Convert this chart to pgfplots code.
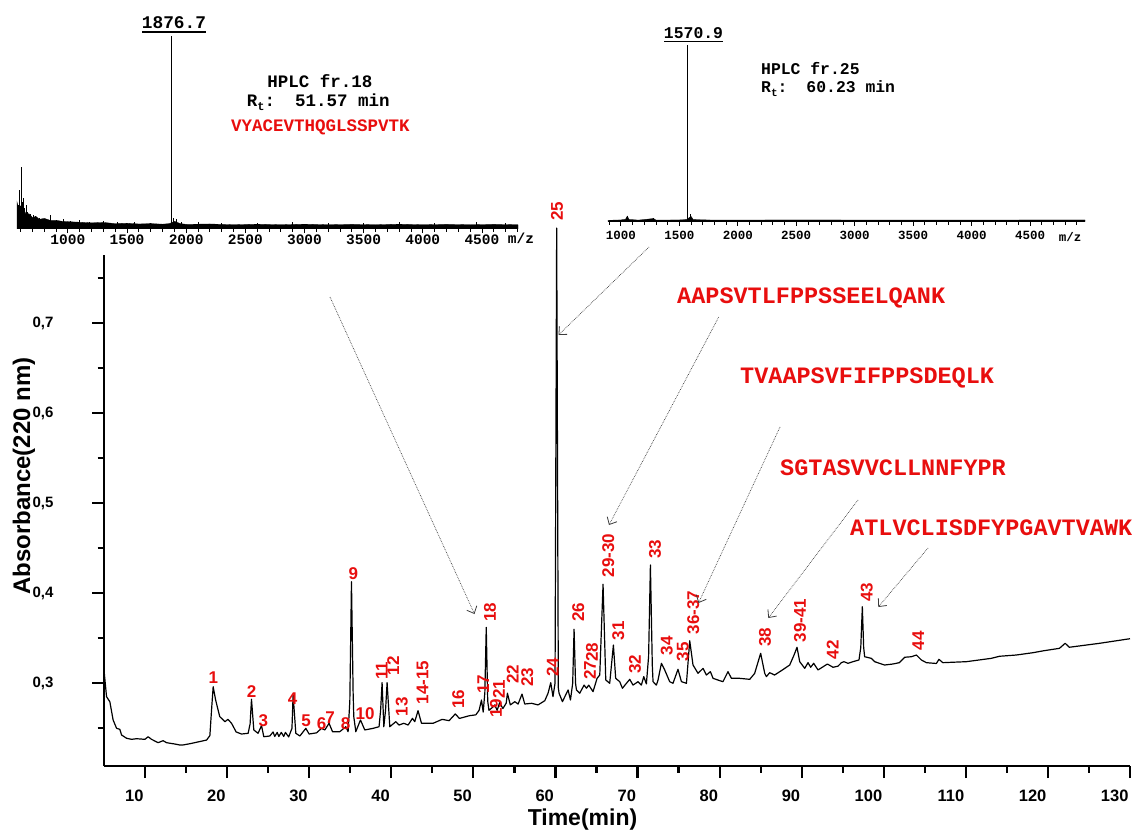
\documentclass[border=0pt]{standalone}
\usepackage{pgfplots}
\pgfplotsset{compat=1.18}
\usepackage{pgfplotstable}
\usepackage{fontspec}
\setmainfont{Liberation Sans}
\newfontfamily\mono{Liberation Mono}
\usetikzlibrary{arrows.meta}
\definecolor{pkred}{RGB}{232,14,14}
\definecolor{arrgray}{RGB}{60,60,60}

\pgfplotstableread{
t y
5.00 0.3148
5.31 0.2851
5.71 0.2796
6.11 0.2593
6.53 0.2501
6.93 0.2489
7.14 0.2426
7.75 0.2390
8.36 0.2378
8.97 0.2385
9.98 0.2378
10.38 0.2407
10.79 0.2378
11.60 0.2341
12.20 0.2363
12.62 0.2341
13.63 0.2326
14.24 0.2315
14.6 0.2315
15.5 0.2330
16.5 0.2350
17.5 0.2370
17.9 0.2420
18.1 0.2700
18.3 0.2962
18.6 0.2815
19.1 0.2630
19.74 0.2574
20.1 0.2600
20.54 0.2556
21.1 0.2460
21.75 0.2437
22.56 0.2445
22.8 0.2550
22.97 0.2822
23.25 0.2482
23.77 0.2445
24.19 0.2530
24.47 0.2407
25.2 0.2415
25.6 0.2460
25.8 0.2410
26.1 0.2455
26.3 0.2410
26.6 0.2455
26.9 0.2410
27.1 0.2455
27.5 0.2405
27.9 0.2500
28.04 0.2870
28.37 0.2445
28.86 0.2415
29.59 0.2500
29.99 0.2437
30.89 0.2450
31.5 0.2500
31.9 0.2482
32.42 0.2556
32.84 0.2463
33.73 0.2463
34.46 0.2518
34.74 0.2463
34.95 0.2800
35.15 0.4128
35.35 0.2900
35.43 0.2630
35.68 0.2463
36.25 0.2593
36.77 0.2482
37.78 0.2500
38.51 0.2518
38.7 0.2700
38.88 0.3007
39.09 0.2518
39.3 0.2700
39.49 0.3007
39.82 0.2518
40.55 0.2574
40.95 0.2537
41.52 0.2556
42.05 0.2537
42.58 0.2611
42.86 0.2574
43.26 0.2696
43.68 0.2556
45.09 0.2556
46.2 0.2600
47.04 0.2585
47.8 0.2660
48.3 0.2610
49.5 0.2640
50.3 0.2650
50.7 0.2700
50.99 0.2815
51.2 0.2680
51.4 0.2900
51.57 0.3621
51.75 0.2800
51.9 0.2700
52.3 0.2730
52.6 0.2760
52.9 0.2700
53.2 0.2785
53.6 0.2720
54.0 0.2780
54.15 0.2890
54.5 0.2760
55.05 0.2796
55.45 0.2770
55.93 0.2880
56.26 0.2770
57.08 0.2778
57.88 0.2760
58.7 0.2807
59.1 0.2890
59.43 0.3007
59.7 0.2852
59.95 0.3000
60.15 0.8053
60.35 0.2950
60.44 0.2890
60.85 0.2796
61.54 0.2926
61.83 0.2815
62.1 0.3000
62.27 0.3600
62.45 0.3000
62.56 0.2926
62.96 0.2890
63.49 0.2980
63.78 0.2945
64.06 0.2980
64.58 0.2907
65.07 0.3055
65.40 0.3092
65.8 0.4100
66.13 0.3037
66.61 0.3000
67.06 0.3425
67.34 0.3055
67.83 0.3018
68.16 0.2945
68.65 0.3000
69.05 0.3044
69.45 0.2980
70.06 0.3018
70.47 0.2980
70.76 0.3074
71.08 0.2993
71.35 0.3300
71.57 0.4313
71.8 0.3200
71.89 0.3018
72.30 0.2980
72.5 0.3037
72.91 0.3222
73.31 0.3148
73.92 0.3018
74.32 0.3000
74.93 0.3155
75.35 0.3018
75.96 0.3000
76.36 0.3473
76.76 0.3203
77.37 0.3111
77.98 0.3166
78.39 0.3092
78.88 0.3129
79.2 0.3055
80.0 0.3030
80.41 0.3018
81.02 0.3129
81.44 0.3055
82.45 0.3055
83.67 0.3044
84.27 0.3110
85.0 0.3333
85.5 0.3110
85.7 0.3074
86.1 0.3118
86.7 0.3092
87.65 0.3148
88.54 0.3203
89.07 0.3314
89.43 0.3400
89.76 0.3240
90.37 0.3166
90.77 0.3229
91.1 0.3178
91.46 0.3222
91.99 0.3148
93.13 0.3214
93.82 0.3178
94.42 0.3190
94.84 0.3229
95.15 0.3240
95.64 0.3222
96.25 0.3240
96.98 0.3259
97.2 0.3400
97.39 0.3850
97.55 0.3400
97.67 0.3295
98.49 0.3277
98.89 0.3240
100.1 0.3203
101.1 0.3214
101.9 0.3229
102.55 0.3289
103.36 0.3295
103.97 0.3314
104.58 0.3259
105.19 0.3229
106.41 0.3220
106.72 0.3266
107.2 0.3229
110.06 0.3240
113.1 0.3277
114.1 0.3300
116.15 0.3314
118.2 0.3340
119.4 0.3360
121.4 0.3388
122.1 0.3444
122.6 0.3400
126.3 0.3444
130.0 0.3495
}\chrom

\pgfplotstableread{
mz h
570 0
570 14
585 10
600 12
615 9
630 10
650 7
670 8
700 6
730 6.5
760 5
800 5.5
850 4.5
900 4.5
950 4
1000 3.8
1100 3.5
1200 3.2
1300 3.4
1400 2.8
1500 3
1600 2.6
1700 2.8
1800 2.5
1860 2.8
1900 4
1950 2.8
2000 2.4
2200 2.6
2400 2.2
2600 2.5
2800 2.2
3000 2.5
3200 2.2
3400 2.4
3600 2.2
3800 2.5
4000 2.2
4200 2.4
4400 2.2
4600 2.4
4805 2.2
4805 0
}\bandA

\pgfplotstableread{
mz h
580 12.4
592 20
604 32
615 14
623 16
634 11
646 12.4
660 9
680 8
705 7
725 6.5
760 5.5
800 5
855 7.3
900 4.5
960 5
1020 4.2
1100 4.5
1180 3.8
1300 4
1420 3.6
1560 3.6
1700 3.2
1876.7 100
1895 5.5
1920 5
1960 3.8
2100 3.4
2300 3.3
2600 3.2
2900 3.6
3200 3.2
3500 3.3
3800 3.6
4100 3.2
4450 3.6
4700 3.3
}\spikeA

\pgfplotstableread{
mz h
890 0
890 0.8
1000 1
1040 1.4
1055 3.2
1070 1.3
1150 0.9
1280 1.8
1300 0.9
1500 1
1560 1.2
1600 3
1620 1.2
1800 0.9
2500 1
3500 0.9
4970 1
4970 0
}\bandB

\pgfplotstableread{
mz h
1055 3.5
1280 2.2
1570.9 100
1595 4.5
}\spikeB

\begin{document}
\begin{tikzpicture}
\path[use as bounding box] (0pt,0pt) rectangle (1135pt,-834pt);

% ---------------- main chromatogram ----------------
\begin{axis}[
  at={(104pt,-766pt)}, anchor=south west,
  scale only axis, width=1026pt, height=511pt,
  xmin=5, xmax=130, ymin=0.2082, ymax=0.7754,
  axis lines=left, axis line style={-, line width=2.4pt},
  clip=false,
  xtick={10,20,...,130}, minor xtick={15,25,...,125},
  ytick={0.3,0.4,0.5,0.6,0.7}, minor ytick={0.25,0.35,0.45,0.55,0.65,0.75},
  tick align=outside,
  major tick length=12pt, minor tick length=6.5pt,
  every tick/.style={black, line width=2.2pt},
  /pgf/number format/assume math mode=true,
  xticklabel style={font=\bfseries\fontsize{16.5}{16.5}\selectfont, anchor=north east, xshift=2pt, yshift=-8pt},
  yticklabel style={font=\bfseries\fontsize{15}{15}\selectfont, anchor=east, xshift=-35pt},
  yticklabel={\pgfmathprintnumber[fixed,fixed zerofill,precision=1,use comma]{\tick}},
]
\addplot[black, line width=1.2pt, mark=none, line join=round] table {\chrom};
\end{axis}

% ---------------- left MS inset ----------------
\begin{axis}[
  at={(17pt,-229pt)}, anchor=south west,
  scale only axis, width=501pt, height=193pt,
  xmin=570, xmax=4805, ymin=0, ymax=100,
  axis x line=bottom, axis y line=none,
  axis line style={-, line width=1pt},
  xtick={1000,1500,...,4500},
  xticklabels={1000,1500,2000,2500,3000,3500,4000,4500},
  minor xtick={600,700,...,4800},
  tick align=outside, major tick length=4pt, minor tick length=3pt,
  every tick/.style={black, line width=0.8pt},
  xticklabel style={font=\mono\bfseries\fontsize{14.5}{14.5}\selectfont, yshift=2pt},
  scaled x ticks=false, clip=false,
]
\addplot[fill=black, draw=black, line width=0.3pt, mark=none] table {\bandA};
\addplot[ycomb, black, line width=0.8pt, mark=none] table {\spikeA};
\end{axis}

% ---------------- right MS inset ----------------
\begin{axis}[
  at={(608pt,-221.7pt)}, anchor=south west,
  scale only axis, width=477pt, height=176.7pt,
  xmin=890, xmax=4970, ymin=0, ymax=100,
  axis x line=bottom, axis y line=none,
  axis line style={-, line width=1pt},
  xtick={1000,1500,...,4500},
  xticklabels={1000,1500,2000,2500,3000,3500,4000,4500},
  minor xtick={900,1000,...,4900},
  tick align=outside, major tick length=4pt, minor tick length=3pt,
  every tick/.style={black, line width=0.8pt},
  xticklabel style={font=\mono\bfseries\fontsize{12.5}{12.5}\selectfont, yshift=-2pt},
  scaled x ticks=false, clip=false,
]
\addplot[fill=black, draw=black, line width=0.3pt, mark=none] table {\bandB};
\addplot[ycomb, black, line width=0.8pt, mark=none] table {\spikeB};
\end{axis}

% ---------------- annotations (pixel frame) ----------------
\begin{scope}[x=1pt, y=-1pt,
  pk/.style={font=\bfseries\fontsize{17}{17}\selectfont, text=pkred, inner sep=0pt},
  pkr/.style={pk, rotate=90},
  seq/.style={font=\mono\bfseries\fontsize{23.5}{23.5}\selectfont, text=pkred, anchor=west, inner sep=0pt},
  arr/.style={densely dotted, line width=0.7pt, arrgray, -{Straight Barb[length=6pt,width=11pt,line width=0.8pt]}},
  ms/.style={font=\mono\bfseries\fontsize{17.5}{17.5}\selectfont, inner sep=0pt},
  ms2/.style={font=\mono\bfseries\fontsize{16.4}{16.4}\selectfont, inner sep=0pt}]

% axis titles
\node[font=\bfseries\fontsize{23}{23}\selectfont, inner sep=0pt] at (582.5,820) {Time(min)};
\node[font=\bfseries\fontsize{24}{24}\selectfont, inner sep=0pt, rotate=90] at (24,476) {Absorbance(220 nm)};

% peak labels
\node[pk] at (213.3,677.3) {1};
\node[pk] at (251.7,691.7) {2};
\node[pk] at (263.3,721) {3};
\node[pk] at (292.7,698.3) {4};
\node[pk] at (306,721) {5};
\node[pk] at (321.7,723.3) {6};
\node[pk] at (330,717.3) {7};
\node[pk] at (345.7,723.3) {8};
\node[pk] at (353.3,574) {9};
\node[pk] at (365,713.3) {10};
\node[pkr] at (381.7,670.7) {11};
\node[pkr] at (393.3,665.7) {12};
\node[pkr] at (401.7,706.7) {13};
\node[pkr] at (422.7,682.3) {14-15};
\node[pkr] at (458.3,699) {16};
\node[pkr] at (483.3,684) {17};
\node[pkr] at (490,612.3) {18};
\node[pkr] at (496,708) {19};
\node[pkr] at (499,689) {21};
\node[pkr] at (512.7,674) {22};
\node[pkr] at (527.3,677.3) {23};
\node[pkr] at (552.7,667.3) {24};
\node[pkr] at (557,211.5) {25};
\node[pkr] at (578.3,612.3) {26};
\node[pkr] at (590,670) {27};
\node[pkr] at (592,652) {28};
\node[pkr] at (608.3,555.7) {29-30};
\node[pkr] at (618.3,630.7) {31};
\node[pkr] at (635,664) {32};
\node[pkr] at (655,549) {33};
\node[pkr] at (666.7,645.7) {34};
\node[pkr] at (682.7,651.7) {35};
\node[pkr] at (693.3,612.3) {36-37};
\node[pkr] at (765,637.3) {38};
\node[pkr] at (800,620.7) {39-41};
\node[pkr] at (832.7,649.7) {42};
\node[pkr] at (866.7,592.3) {43};
\node[pkr] at (918.3,640.7) {44};

% sequences
\node[seq] at (677,298) {AAPSVTLFPPSSEELQANK};
\node[seq] at (740,378) {TVAAPSVFIFPPSDEQLK};
\node[seq] at (780,468) {SGTASVVCLLNNFYPR};
\node[seq] at (850,528) {ATLVCLISDFYPGAVTVAWK};

% arrows
\draw[arr] (330,297) -- (474.5,614);
\draw[arr] (649,247) -- (558.5,335);
\draw[arr] (718.7,317) -- (609,525);
\draw[arr] (780,427) -- (698.5,603);
\draw[arr] (858,500) -- (768.3,618);
\draw[arr] (928,548) -- (878.3,607);

% left inset annotations
\node[font=\mono\bfseries\fontsize{17.8}{17.8}\selectfont, inner sep=0pt] at (174,23) {1876.7};
\draw[line width=1.6pt] (142,32) -- (206,32);
\node[ms] at (320,81) {HPLC fr.18};
\node[ms, anchor=west] at (246.7,102) {R\raisebox{-4pt}{\fontsize{12}{12}\selectfont t}:\hspace{20pt}51.57 min};
\node[ms, text=pkred] at (320.5,127) {VYACEVTHQGLSSPVTK};
\node[font=\mono\bfseries\fontsize{14.5}{14.5}\selectfont, inner sep=0pt] at (521,238) {m/z};

% right inset annotations
\node[font=\mono\bfseries\fontsize{16.4}{16.4}\selectfont, inner sep=0pt] at (693.5,32.7) {1570.9};
\draw[line width=1.6pt] (664,41.7) -- (723,41.7);
\node[ms2, anchor=west] at (761,68.3) {HPLC fr.25};
\node[ms2, anchor=west] at (761,88.3) {R\raisebox{-4pt}{\fontsize{11}{11}\selectfont t}:\hspace{19pt}60.23 min};
\node[font=\mono\bfseries\fontsize{12.5}{12.5}\selectfont, inner sep=0pt] at (1070,237) {m/z};
\end{scope}
\end{tikzpicture}
\end{document}
